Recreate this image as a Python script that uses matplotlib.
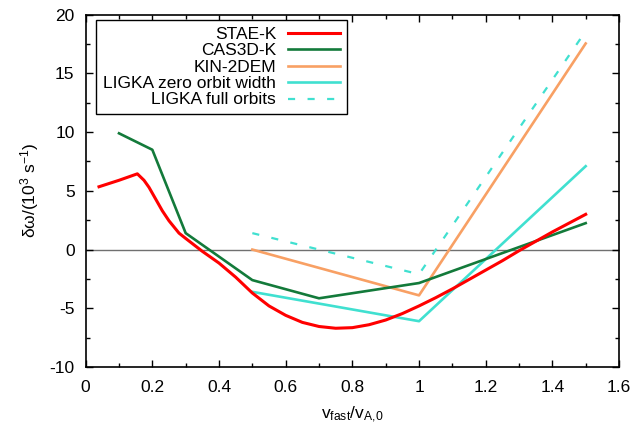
import matplotlib
matplotlib.use("Agg")
import matplotlib.pyplot as plt
from matplotlib.ticker import MultipleLocator, FuncFormatter

plt.rcParams['font.family'] = ['Liberation Sans', 'DejaVu Sans']
plt.rcParams['mathtext.fontset'] = 'custom'
plt.rcParams['mathtext.rm'] = 'Liberation Sans'
plt.rcParams['mathtext.it'] = 'Liberation Sans'
plt.rcParams['axes.unicode_minus'] = False

# STAE-K (smooth curve)
stae_x = [0.04, 0.1, 0.155, 0.175, 0.19, 0.21, 0.23, 0.25, 0.28, 0.3, 0.35, 0.4, 0.45, 0.5,
          0.55, 0.6, 0.65, 0.7, 0.75, 0.8, 0.85, 0.9, 0.95, 1.0, 1.05, 1.1,
          1.15, 1.2, 1.25, 1.3, 1.35, 1.4, 1.45, 1.5]
stae_y = [5.35, 5.9, 6.45, 5.9, 5.3, 4.3, 3.3, 2.45, 1.4, 0.95, -0.15, -1.15, -2.35, -3.7,
          -4.8, -5.6, -6.2, -6.55, -6.7, -6.65, -6.4, -6.0, -5.45, -4.8, -4.1, -3.35,
          -2.55, -1.75, -0.95, -0.1, 0.7, 1.5, 2.25, 3.0]

# CAS3D-K
cas_x = [0.1, 0.2, 0.3, 0.5, 0.7, 1.0, 1.5]
cas_y = [9.9, 8.5, 1.4, -2.6, -4.15, -2.85, 2.25]

# KIN-2DEM
kin_x = [0.5, 1.0, 1.5]
kin_y = [0.0, -3.9, 17.55]

# LIGKA zero orbit width
lz_x = [0.5, 1.0, 1.5]
lz_y = [-3.6, -6.1, 7.1]

# LIGKA full orbits
lf_x = [0.5, 1.0, 1.5]
lf_y = [1.4, -2.1, 18.6]

fig = plt.figure(figsize=(6.36, 4.30), dpi=100)
ax = fig.add_axes([0.1347, 0.1465, 0.9733 - 0.1347, 0.9658 - 0.1465])

ax.axhline(0, color='#707070', lw=1.0, zorder=1)

ax.plot(stae_x, stae_y, color='#ff0000', lw=2.2, label='STAE-K', zorder=5)
ax.plot(cas_x, cas_y, color='#137a3a', lw=1.9, label='CAS3D-K', zorder=4)
ax.plot(kin_x, kin_y, color='#f8a064', lw=1.9, label='KIN-2DEM', zorder=3)
ax.plot(lz_x, lz_y, color='#40e0d0', lw=1.9, label='LIGKA zero orbit width', zorder=3)
ax.plot(lf_x, lf_y, color='#40e0d0', lw=1.6, dashes=(3.2, 5.6), label='LIGKA full orbits', zorder=3)

ax.set_xlim(0, 1.6)
ax.set_ylim(-10, 20)
ax.xaxis.set_major_locator(MultipleLocator(0.2))
ax.xaxis.set_minor_locator(MultipleLocator(0.1))
ax.yaxis.set_major_locator(MultipleLocator(5))
ax.yaxis.set_minor_locator(MultipleLocator(2.5))
ax.xaxis.set_major_formatter(FuncFormatter(lambda v, p: ('%g' % round(v, 2))))
ax.yaxis.set_major_formatter(FuncFormatter(lambda v, p: ('%g' % round(v, 2))))
ax.tick_params(which='both', direction='in', top=True, right=True, labelsize=12.5, width=1.0)
ax.tick_params(which='major', length=5)
ax.tick_params(axis='x', which='major', pad=9)
ax.tick_params(axis='y', which='major', pad=8)
ax.tick_params(which='minor', length=3)
for s in ax.spines.values():
    s.set_linewidth(1.2)

ax.set_xlabel(r'v$_{\mathregular{fast}}$/v$_{\mathregular{A{,}0}}$', fontsize=12.5, labelpad=7)
ax.set_ylabel(r'δω/(10$^{\mathregular{3}}$ s$^{\mathregular{-1}}$)', fontsize=12.5, labelpad=6)

leg = ax.legend(loc='upper left', bbox_to_anchor=(0.02, 0.985), fontsize=12.5,
                frameon=True, fancybox=False, edgecolor='black', framealpha=1,
                markerfirst=False, handlelength=3.0, handletextpad=0.7,
                labelspacing=0.08, borderpad=0.4, borderaxespad=0.0)
leg.get_frame().set_linewidth(1.0)
leg._legend_box.align = 'right'
for vp in leg._legend_handle_box.get_children():
    for c in vp.get_children():
        c.align = 'right'

fig.savefig('out.png', dpi=100)
